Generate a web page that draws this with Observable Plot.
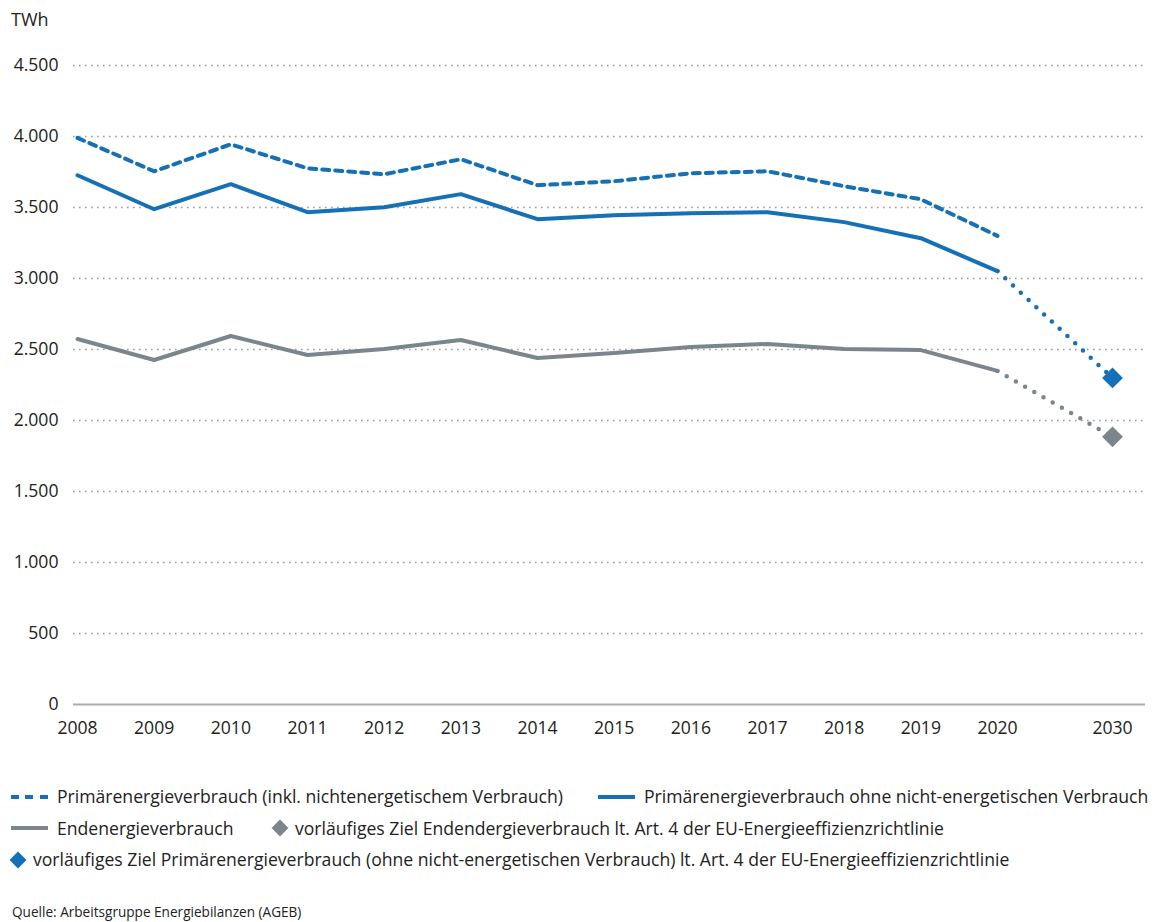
<!DOCTYPE html>
<html>
<head>
<meta charset="utf-8">
<script src="https://cdn.jsdelivr.net/npm/d3@7"></script>
<script src="https://cdn.jsdelivr.net/npm/@observablehq/plot@0.6"></script>
<style>
  body { margin: 0; background: #fff; font-family: "Open Sans", "Noto Sans", sans-serif; color: #222; }
  #wrap { position: relative; width: 1156px; }
  #unit { position: absolute; left: 11px; top: 7px; font-size: 18px; color: #222; }
  #legend { padding-top: 21px; font-size: 17.6px; }
  .row { height: 31.5px; line-height: 31.5px; white-space: nowrap; position: relative; }
  .item { position: absolute; top: 0; display: inline-flex; align-items: center; height: 31.5px; }
  .sw { display: inline-block; width: 37px; height: 4px; margin-right: 9px; }
  .dia { display: inline-block; width: 12px; height: 12px; transform: rotate(45deg); margin: 0 9px 0 3px; }
  #source { font-size: 13.6px; margin-top: 27px; padding-left: 12px; line-height: 18px; }
</style>
</head>
<body>
<div id="wrap">
  <div id="unit">TWh</div>
  <div id="chart"></div>
  <div id="legend"></div>
  <div id="source">Quelle: Arbeitsgruppe Energiebilanzen (AGEB)</div>
</div>
<script>
const years = [2008, 2009, 2010, 2011, 2012, 2013, 2014, 2015, 2016, 2017, 2018, 2019, 2020];
const primaryIncl = [3990, 3755, 3945, 3776, 3734, 3840, 3657, 3685, 3741, 3755, 3650, 3558, 3300];
const primaryExcl = [3727, 3488, 3664, 3467, 3502, 3594, 3418, 3446, 3460, 3467, 3397, 3284, 3052];
const finalEnergy = [2574, 2426, 2595, 2461, 2503, 2567, 2440, 2475, 2518, 2539, 2503, 2496, 2349];
const targetYear = 2030;
const targetPrimary = 2300;
const targetFinal = 1885;
const xTicks = [...years, targetYear];
const yTicks = [0, 500, 1000, 1500, 2000, 2500, 3000, 3500, 4000, 4500];

const blue = "#1570b5";
const grey = "#7b868c";

const labels = {
  incl: "Primärenergieverbrauch (inkl. nichtenergetischem Verbrauch)",
  excl: "Primärenergieverbrauch ohne nicht-energetischen Verbrauch",
  fin: "Endenergieverbrauch",
  tFin: "vorläufiges Ziel Endendergieverbrauch lt. Art. 4 der EU-Energieeffizienzrichtlinie",
  tPrim: "vorläufiges Ziel Primärenergieverbrauch (ohne nicht-energetischen Verbrauch) lt. Art. 4 der EU-Energieeffizienzrichtlinie"
};

const rows = (vals) => years.map((y, i) => ({year: y, value: vals[i]}));
const lastYear = years[years.length - 1];
const exclPath = [{year: lastYear, value: primaryExcl[primaryExcl.length - 1]}, {year: targetYear, value: targetPrimary}];
const finPath = [{year: lastYear, value: finalEnergy[finalEnergy.length - 1]}, {year: targetYear, value: targetFinal}];
const targets = [
  {year: targetYear, value: targetPrimary, c: blue},
  {year: targetYear, value: targetFinal, c: grey}
];

const fmt = d => d3.format(",")(d).replace(/,/g, ".");

const chart = Plot.plot({
  width: 1156,
  height: 760,
  marginTop: 65,
  marginBottom: 56,
  marginLeft: 73,
  marginRight: 11,
  style: {fontSize: "17.6px", fontFamily: "'Open Sans', 'Noto Sans', sans-serif", color: "#222", background: "#fff"},
  x: {type: "linear", domain: [2008, 2020, 2030], range: [77, 997, 1112]},
  y: {domain: [0, 4500]},
  marks: [
    Plot.gridY(yTicks.filter(d => d > 0), {stroke: "#9a9a9a", strokeOpacity: 1, strokeWidth: 1.6, strokeDasharray: "1.6,4.4"}),
    Plot.ruleY([0], {stroke: "#a7adb1", strokeWidth: 2}),
    Plot.axisY(yTicks, {tickSize: 0, tickPadding: 15, tickFormat: fmt, label: null, fill: "#222"}),
    Plot.axisX(xTicks, {tickSize: 0, tickPadding: 17, tickFormat: d => String(d), label: null, fill: "#222"}),
    Plot.line(rows(finalEnergy), {x: "year", y: "value", stroke: grey, strokeWidth: 4}),
    Plot.line(finPath, {x: "year", y: "value", stroke: grey, strokeWidth: 4.5, strokeDasharray: "0,10.6", strokeLinecap: "round"}),
    Plot.line(rows(primaryExcl), {x: "year", y: "value", stroke: blue, strokeWidth: 4}),
    Plot.line(exclPath, {x: "year", y: "value", stroke: blue, strokeWidth: 4.5, strokeDasharray: "0,10.6", strokeLinecap: "round"}),
    Plot.line(rows(primaryIncl), {x: "year", y: "value", stroke: blue, strokeWidth: 4, strokeDasharray: "7,6"}),
    Plot.dot(targets, {x: "year", y: "value", symbol: "square", rotate: 45, r: 8.3, fill: "c", stroke: null})
  ]
});
document.getElementById("chart").appendChild(chart);

const lg = document.getElementById("legend");
function row(items) {
  const r = document.createElement("div");
  r.className = "row";
  for (const it of items) {
    const s = document.createElement("span");
    s.className = "item";
    s.style.left = it.left + "px";
    let sw;
    if (it.kind === "dash") sw = `<span class="sw" style="background: repeating-linear-gradient(90deg, ${it.c} 0 8px, transparent 8px 14.5px);"></span>`;
    else if (it.kind === "line") sw = `<span class="sw" style="background:${it.c}"></span>`;
    else sw = `<span class="dia" style="background:${it.c}"></span>`;
    s.innerHTML = sw + `<span>${it.text}</span>`;
    r.appendChild(s);
  }
  lg.appendChild(r);
}
row([{left: 11, kind: "dash", c: blue, text: labels.incl}, {left: 598, kind: "line", c: blue, text: labels.excl}]);
row([{left: 11, kind: "line", c: grey, text: labels.fin}, {left: 271, kind: "dia", c: grey, text: labels.tFin}]);
row([{left: 9, kind: "dia", c: blue, text: labels.tPrim}]);
</script>
</body>
</html>
